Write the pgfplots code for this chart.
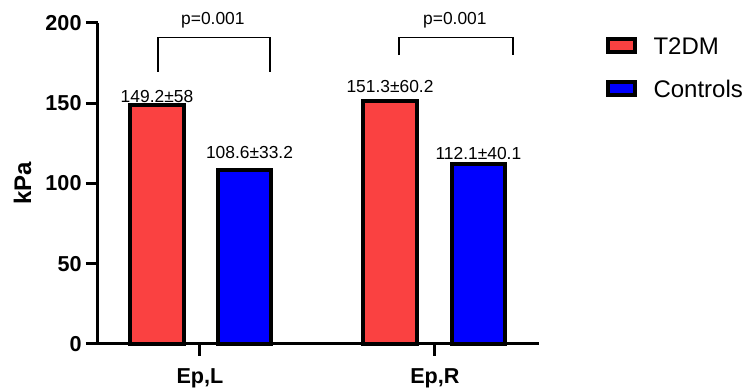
\documentclass[border=0pt]{standalone}
\usepackage{pgfplots}
\pgfplotsset{compat=1.18}
\usepackage{fontspec}
\setmainfont{Liberation Sans}
\definecolor{tred}{RGB}{250,65,65}
\definecolor{tblue}{RGB}{0,0,255}
\begin{document}
\begin{tikzpicture}
\begin{axis}[
  scale only axis, width=220.5pt, height=160.5pt,
  xmin=-0.434, xmax=1.443, ymin=0, ymax=200,
  clip=false,
  axis lines=left,
  axis line style={line width=1.5pt, -},
  xtick={0,1}, xticklabels={{Ep,L},{Ep,R}},
  ytick={0,50,100,150,200},
  tick style={line width=1.5pt, black},
  major tick length=6pt, tick align=outside,
  ticklabel style={font=\fontsize{10.8}{12}\selectfont\bfseries},
  /pgf/number format/assume math mode=true,
  yticklabel style={xshift=1.3pt},
  xticklabel style={yshift=-2.7pt},
  ylabel={kPa},
  ylabel style={font=\fontsize{12}{14}\selectfont\bfseries, at={(axis description cs:-0.1712,0.5)}, anchor=center},
  legend style={at={(1.15,0.958)}, anchor=north west, draw=none, fill=none,
    font=\fontsize{12}{14}\selectfont, inner sep=0pt, row sep=12.9pt,
    nodes={inner sep=0pt, text height=8.6pt, text depth=0pt}},
  legend cell align=left,
  legend image code/.code={\draw[#1, line width=2pt] (1pt,-3.25pt) rectangle (14.5pt,3.25pt); \path[draw=none, fill=none, line width=0pt] (0pt,0pt) -- (24pt,0pt);},
]
\addplot[ybar, bar width=0.226, bar shift=0pt, fill=tred, draw=black, line width=2pt]
  coordinates {(-0.183,149.2) (0.809,151.3)};
\addlegendentry{T2DM}
\addplot[ybar, bar width=0.226, bar shift=0pt, fill=tblue, draw=black, line width=2pt]
  coordinates {(0.191,108.6) (1.187,112.1)};
\addlegendentry{Controls}

\draw[line width=0.65pt] (axis cs:-0.179,169.6) -- (axis cs:-0.179,190.8) -- (axis cs:0.298,190.8) -- (axis cs:0.298,169.6);
\draw[line width=0.65pt] (axis cs:0.847,180) -- (axis cs:0.847,190.8) -- (axis cs:1.332,190.8) -- (axis cs:1.332,180);
\node[anchor=base, font=\fontsize{8.7}{10}\selectfont, inner sep=0pt] at (axis cs:0.055,198.75) {p=0.001};
\node[anchor=base, font=\fontsize{8.7}{10}\selectfont, inner sep=0pt] at (axis cs:1.085,198.75) {p=0.001};
\node[anchor=base, font=\fontsize{8.7}{10}\selectfont, inner sep=0pt] at (axis cs:-0.183,150.6) {149.2±58};
\node[anchor=base, font=\fontsize{8.7}{10}\selectfont, inner sep=0pt] at (axis cs:0.211,115.6) {108.6±33.2};
\node[anchor=base, font=\fontsize{8.7}{10}\selectfont, inner sep=0pt] at (axis cs:0.809,156.9) {151.3±60.2};
\node[anchor=base, font=\fontsize{8.7}{10}\selectfont, inner sep=0pt] at (axis cs:1.185,115.0) {112.1±40.1};
\end{axis}
\pgfresetboundingbox
\path ([shift={(-49pt,-22pt)}]current axis.south west) rectangle ([shift={(103pt,11.5pt)}]current axis.north east);
\end{tikzpicture}
\end{document}
